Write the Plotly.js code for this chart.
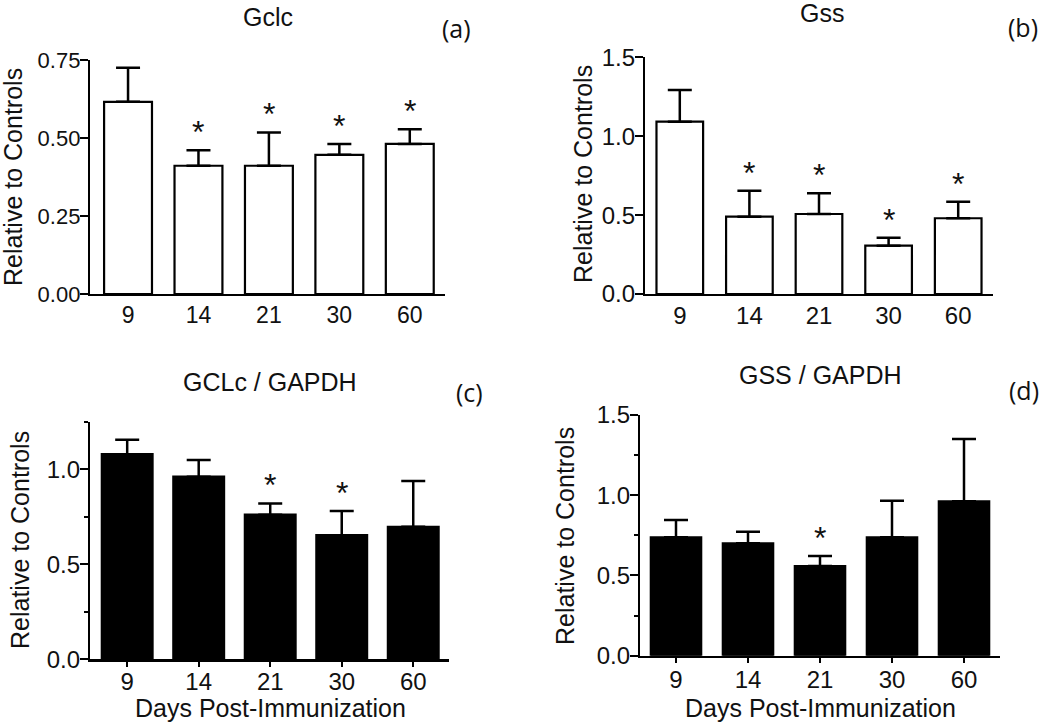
<!DOCTYPE html>
<html>
<head>
<meta charset="utf-8">
<script src="https://cdn.plot.ly/plotly-3.0.1.min.js"></script>
<style>html,body{margin:0;padding:0;background:#fff;}#chart{width:1050px;height:725px;}</style>
</head>
<body>
<div id="chart"></div>
<script>
// ---- data ----
const days = ['9', '14', '21', '30', '60'];

const gclcMean = [0.616, 0.411, 0.411, 0.446, 0.481];
const gclcErr  = [0.109, 0.050, 0.107, 0.035, 0.047];
const gclcSig  = [false, true, true, true, true];

const gssMean = [1.092, 0.490, 0.507, 0.306, 0.480];
const gssErr  = [0.201, 0.165, 0.131, 0.051, 0.105];
const gssSig  = [false, true, true, true, true];

const gclcGapdhMean = [1.079, 0.961, 0.761, 0.653, 0.697];
const gclcGapdhErr  = [0.076, 0.088, 0.059, 0.127, 0.241];
const gclcGapdhSig  = [false, false, true, true, false];

const gssGapdhMean = [0.738, 0.700, 0.559, 0.738, 0.962];
const gssGapdhErr  = [0.108, 0.073, 0.062, 0.228, 0.388];
const gssGapdhSig  = [false, false, true, false, false];

const noLowerErr = [0, 0, 0, 0, 0];

const panelTitles = ['Gclc', 'Gss', 'GCLc / GAPDH', 'GSS / GAPDH'];
const panelLetters = ['(a)', '(b)', '(c)', '(d)'];
const yTitle = 'Relative to Controls';
const xTitle = 'Days Post-Immunization';

// ---- helpers ----
const W = 1050, H = 725;
const px = v => v / W;
const py = v => 1 - v / H;
const FONT = '"Liberation Sans", Arial, sans-serif';
const INK = '#111';

function barTrace(mean, err, xa, ya, fill, width) {
  return {
    type: 'bar', x: days, y: mean, xaxis: xa, yaxis: ya, width: width,
    marker: {color: fill, line: {color: '#000', width: 2.2}},
    error_y: {type: 'data', symmetric: false, array: err, arrayminus: noLowerErr,
              color: '#000', thickness: 2.5, width: 12},
    hoverinfo: 'x+y'
  };
}

const data = [
  barTrace(gclcMean, gclcErr, 'x', 'y', '#fff', 0.68),
  barTrace(gssMean, gssErr, 'x2', 'y2', '#fff', 0.67),
  barTrace(gclcGapdhMean, gclcGapdhErr, 'x3', 'y3', '#000', 0.71),
  barTrace(gssGapdhMean, gssGapdhErr, 'x4', 'y4', '#000', 0.70)
];

function xAxis(domainPx, range, anchor, ticks, fontSize, standoff) {
  return {
    domain: [px(domainPx[0]), px(domainPx[1])], anchor: anchor,
    type: 'category', range: range, showline: true, linecolor: '#000', linewidth: 2.2,
    ticks: ticks, ticklen: 5, tickwidth: 2, tickcolor: '#000',
    ticklabelstandoff: standoff,
    showgrid: false, zeroline: false, fixedrange: true,
    tickfont: {family: FONT, size: fontSize, color: INK}
  };
}
function yAxis(domainPx, range, anchor, tickvals, ticktext, minor, fontSize) {
  const ax = {
    domain: [py(domainPx[1]), py(domainPx[0])], anchor: anchor,
    range: range, showline: true, linecolor: '#000', linewidth: 2.2,
    ticks: 'outside', ticklen: 8, tickwidth: 2, tickcolor: '#000',
    ticklabelstandoff: -5,
    tickvals: tickvals, ticktext: ticktext,
    showgrid: false, zeroline: false, fixedrange: true,
    tickfont: {family: FONT, size: fontSize, color: INK}
  };
  if (minor) ax.minor = {dtick: 0.25, ticks: 'outside', ticklen: 4, tickwidth: 2, tickcolor: '#000', showgrid: false};
  return ax;
}

const layout = {
  width: W, height: H,
  margin: {l: 0, r: 0, t: 0, b: 0},
  paper_bgcolor: '#fff', plot_bgcolor: 'rgba(0,0,0,0)',
  showlegend: false, bargap: 0.3,
  xaxis:  xAxis([90, 445], [-0.54, 4.5], 'y', '', 23, -1),
  yaxis:  yAxis([60, 294], [0, 0.75], 'x', [0, 0.25, 0.5, 0.75], ['0.00', '0.25', '0.50', '0.75'], false, 22),
  xaxis2: xAxis([645, 993], [-0.5, 4.5], 'y2', '', 24, -1),
  yaxis2: yAxis([57.3, 294], [0, 1.5], 'x2', [0, 0.5, 1.0, 1.5], ['0.0', '0.5', '1.0', '1.5'], false, 24),
  xaxis3: xAxis([90, 449], [-0.52, 4.5], 'y3', 'outside', 24, -5),
  yaxis3: yAxis([421.7, 659.3], [0, 1.25], 'x3', [0, 0.5, 1.0], ['0.0', '0.5', '1.0'], true, 24),
  xaxis4: xAxis([640, 1000], [-0.5, 4.5], 'y4', 'outside', 24, -4),
  yaxis4: yAxis([415, 655.7], [0, 1.5], 'x4', [0, 0.5, 1.0, 1.5], ['0.0', '0.5', '1.0', '1.5'], true, 24),
  annotations: []
};

const ann = layout.annotations;
// panel titles
const titlePos = [[268, 17], [822, 13], [270, 382], [820, 375]];
panelTitles.forEach((t, i) => ann.push({
  text: t, xref: 'paper', yref: 'paper', x: px(titlePos[i][0]), y: py(titlePos[i][1]),
  xanchor: 'center', yanchor: 'middle', showarrow: false,
  font: {family: FONT, size: 25, color: INK}
}));
// panel letters
const letterPos = [[456, 28], [1023, 27], [469, 392], [1024, 390]];
panelLetters.forEach((t, i) => ann.push({
  text: t, xref: 'paper', yref: 'paper', x: px(letterPos[i][0]), y: py(letterPos[i][1]),
  xanchor: 'center', yanchor: 'middle', showarrow: false,
  font: {family: '"Open Sans", "Noto Sans", sans-serif', size: 25, color: INK}
}));
// y-axis titles
const yTitlePos = [[13, 177], [583, 174], [20, 540], [565, 536]];
yTitlePos.forEach(p => ann.push({
  text: yTitle, xref: 'paper', yref: 'paper', x: px(p[0]), y: py(p[1]),
  xanchor: 'center', yanchor: 'middle', textangle: -90, showarrow: false,
  font: {family: FONT, size: 25, color: INK}
}));
// x-axis titles
[[270, 708], [820, 708]].forEach(p => ann.push({
  text: xTitle, xref: 'paper', yref: 'paper', x: px(p[0]), y: py(p[1]),
  xanchor: 'center', yanchor: 'middle', showarrow: false,
  font: {family: FONT, size: 25, color: INK}
}));
// significance asterisks (x given as category index)
function stars(mean, err, sig, xr, yr) {
  sig.forEach((s, i) => {
    if (!s) return;
    ann.push({
      text: '*', xref: xr, yref: yr, x: i, y: mean[i] + err[i],
      xanchor: 'center', yanchor: 'bottom', yshift: -2, showarrow: false,
      font: {family: FONT, size: 32, color: INK}
    });
  });
}
stars(gclcMean, gclcErr, gclcSig, 'x', 'y');
stars(gssMean, gssErr, gssSig, 'x2', 'y2');
stars(gclcGapdhMean, gclcGapdhErr, gclcGapdhSig, 'x3', 'y3');
stars(gssGapdhMean, gssGapdhErr, gssGapdhSig, 'x4', 'y4');

Plotly.newPlot('chart', data, layout, {displayModeBar: false, staticPlot: true});
</script>
</body>
</html>
